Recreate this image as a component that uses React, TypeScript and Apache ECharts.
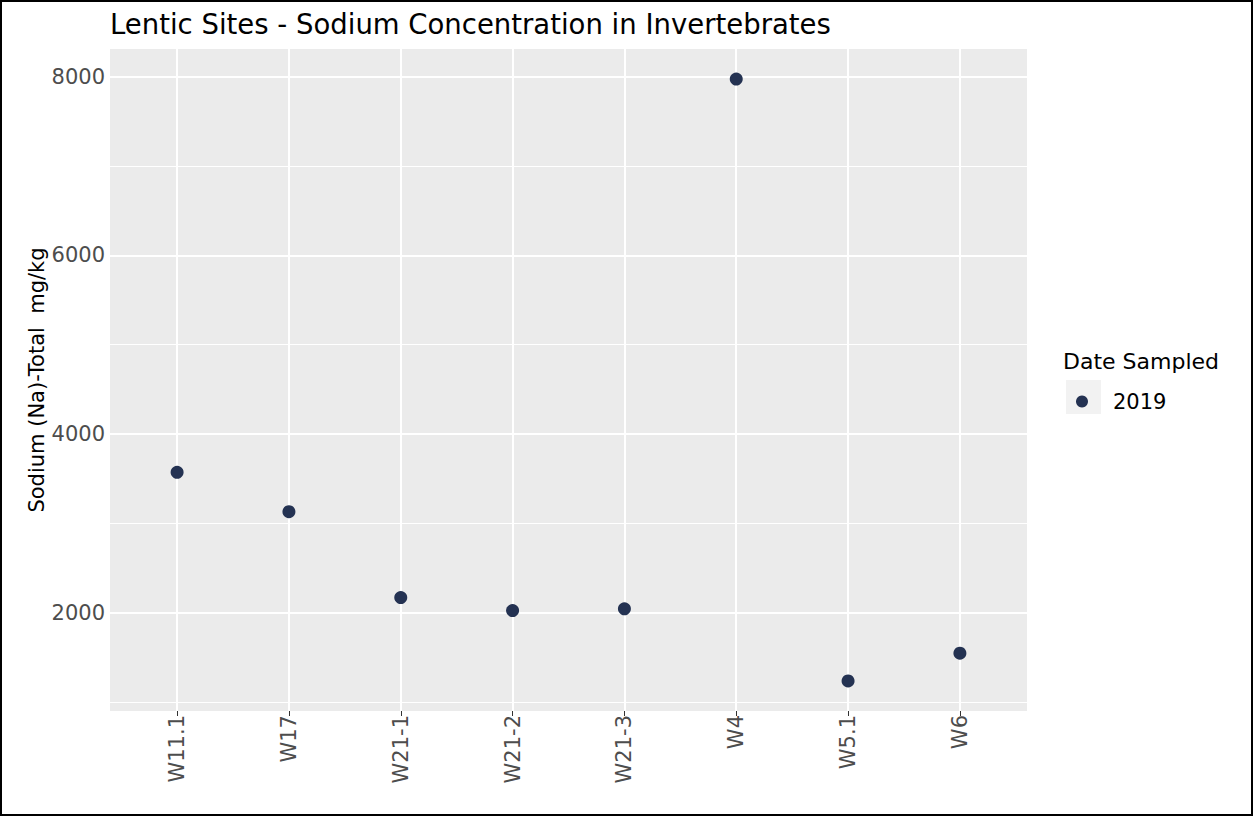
import React, { useEffect, useRef } from "react";
import * as echarts from "echarts";

const sites = ["W11.1", "W17", "W21-1", "W21-2", "W21-3", "W4", "W5.1", "W6"];
const sodium = [3570, 3130, 2168, 2022, 2041, 7975, 1234, 1545];
const yMajorTicks = [2000, 4000, 6000, 8000];
const yMinorTicks = [1000, 3000, 5000, 7000];
const seriesName = "2019";
const titleText = "Lentic Sites - Sodium Concentration in Invertebrates";
const yAxisName = "Sodium (Na)-Total  mg/kg";
const legendTitle = "Date Sampled";

const FONT = "DejaVu Sans";

export default function App() {
  const ref = useRef<HTMLDivElement>(null);
  useEffect(() => {
    if (!ref.current) return;
    const chart = echarts.init(ref.current, null, { renderer: "svg" });
    const xIdx = sites.map((_, i) => i);
    chart.setOption({
      animation: false,
      backgroundColor: "#ffffff",
      textStyle: { fontFamily: FONT },
      title: {
        text: titleText,
        left: 110,
        top: 10,
        padding: 0,
        textStyle: { fontFamily: FONT, fontSize: 27.5, fontWeight: "normal", color: "#000000" },
      },
      grid: {
        left: 110,
        right: 227,
        top: 49,
        bottom: 106,
        show: true,
        backgroundColor: "#EBEBEB",
        borderWidth: 0,
      },
      legend: {
        left: 1076,
        top: 391,
        icon: "circle",
        itemWidth: 12,
        itemHeight: 12,
        padding: 0,
        data: [seriesName],
        textStyle: { fontFamily: FONT, fontSize: 21, color: "#000000", padding: [0, 0, 0, 20] },
      },
      xAxis: {
        type: "value",
        min: -0.6,
        max: 7.6,
        axisLine: { show: false },
        splitLine: { show: false },
        axisTick: { show: true, customValues: xIdx, length: 5, lineStyle: { color: "#333333", width: 1 } },
        axisLabel: {
          customValues: xIdx,
          formatter: (v: number) => sites[Math.round(v)] ?? "",
          rotate: 90,
          margin: 4,
          fontSize: 21,
          fontFamily: FONT,
          color: "#4D4D4D",
        },
      },
      yAxis: {
        type: "value",
        min: 897,
        max: 8312,
        name: yAxisName,
        nameLocation: "middle",
        nameGap: 63,
        nameMoveOverlap: false,
        nameRotate: 90,
        nameTextStyle: { fontFamily: FONT, fontSize: 21, color: "#000000" },
        axisLine: { show: false },
        splitLine: { show: false },
        axisTick: { show: true, customValues: yMajorTicks, length: 5, lineStyle: { color: "#333333", width: 1 } },
        axisLabel: {
          customValues: yMajorTicks,
          formatter: (v: number) => String(v),
          margin: 5,
          fontSize: 21,
          fontFamily: FONT,
          color: "#4D4D4D",
        },
      },
      graphic: [
        {
          type: "rect",
          left: 1066,
          top: 380,
          shape: { width: 35, height: 34 },
          style: { fill: "#F2F2F2" },
          z: -1,
        },
        {
          type: "text",
          left: 1063,
          top: 350,
          style: { text: legendTitle, fontFamily: FONT, fontSize: 22, fill: "#000000" },
        },
        {
          type: "rect",
          shape: { x: 1, y: 1, width: 1251, height: 814 },
          style: { fill: "none", stroke: "#000000", lineWidth: 2 },
          silent: true,
          z: 100,
        },
      ],
      series: [
        {
          name: seriesName,
          type: "scatter",
          symbol: "circle",
          symbolSize: 13,
          itemStyle: { color: "#243252", opacity: 1 },
          data: sodium.map((v, i) => [i, v]),
          z: 3,
          markLine: {
            silent: true,
            z: 1,
            symbol: ["none", "none"],
            label: { show: false },
            lineStyle: { color: "#ffffff", type: "solid" },
            emphasis: { disabled: true },
            data: [
              ...yMajorTicks.map((v) => ({ yAxis: v, lineStyle: { width: 2, color: "#ffffff", type: "solid" } })),
              ...yMinorTicks.map((v) => ({ yAxis: v, lineStyle: { width: 1, color: "#ffffff", type: "solid" } })),
              ...xIdx.map((i) => ({ xAxis: i, lineStyle: { width: 2, color: "#ffffff", type: "solid" } })),
            ],
          },
        },
      ],
    });
    return () => chart.dispose();
  }, []);
  return (
    <div
      ref={ref}
      style={{ position: "fixed", left: 0, top: 0, width: 1254, height: 817 }}
    />
  );
}
